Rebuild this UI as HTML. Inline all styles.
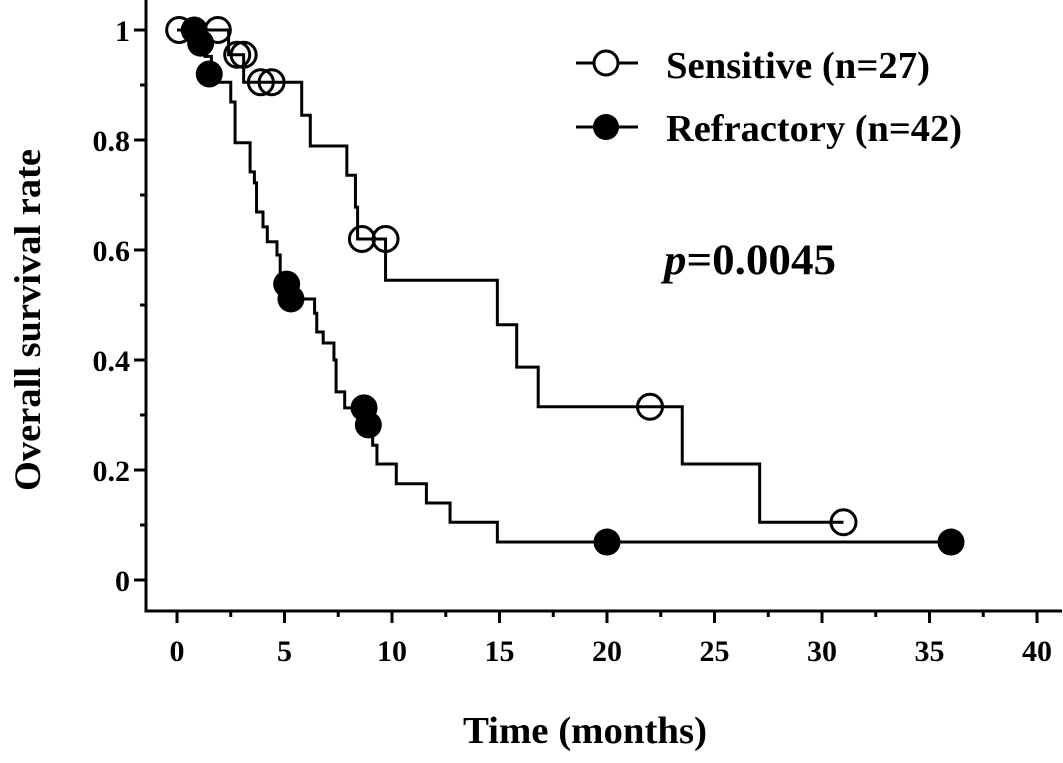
<!DOCTYPE html>
<html><head><meta charset="utf-8"><style>
html,body{margin:0;padding:0;background:#fff;}
svg{display:block;font-family:"Liberation Serif",serif;font-weight:bold;}
</style></head><body>
<svg id="chart" width="1063" height="763" viewBox="0 0 1063 763">
<g id="axes"></g>
<g id="curves"></g>
<text x="463" y="743" font-size="38" textLength="244" lengthAdjust="spacingAndGlyphs">Time (months)</text>
<text transform="translate(40,320) rotate(-90)" text-anchor="middle" font-size="37" textLength="342" lengthAdjust="spacingAndGlyphs">Overall survival rate</text>
<g>
 <g>
  <line x1="576" y1="63" x2="638" y2="63" stroke="#000" stroke-width="3"/>
  <circle cx="606" cy="63" r="12" fill="#fff" stroke="#000" stroke-width="3"/>
  <text x="666" y="78" font-size="38" textLength="264" lengthAdjust="spacingAndGlyphs">Sensitive (n=27)</text>
 </g>
 <g>
  <line x1="576" y1="127" x2="638" y2="127" stroke="#000" stroke-width="3"/>
  <circle cx="606" cy="127" r="13" fill="#000"/>
  <text x="666" y="141" font-size="38" textLength="296" lengthAdjust="spacingAndGlyphs">Refractory (n=42)</text>
 </g>
</g>
<text x="664" y="274" font-size="43" textLength="172" lengthAdjust="spacingAndGlyphs"><tspan font-style="italic">p</tspan>=0.0045</text>
</svg>
<script>
const xTicks=[0,5,10,15,20,25,30,35,40];
const yTicks=[0,0.2,0.4,0.6,0.8,1];
const yTickLabels=["0","0.2","0.4","0.6","0.8","1"];
// sensitive: event times and survival after each step
const sensTimes=[0,2.4,3.1,5.8,6.2,7.9,8.3,8.4,9.7,14.9,15.8,16.8,23.5,27.1];
const sensSurv=[1,0.955,0.905,0.845,0.789,0.736,0.678,0.62,0.545,0.464,0.387,0.315,0.211,0.105];
const sensEnd=31.0;
const sensCensorT=[0.1,1.9,2.8,3.1,3.9,4.4,8.6,9.7,22.0,31.0];
const sensCensorS=[1,1,0.955,0.955,0.905,0.905,0.62,0.62,0.315,0.105];
const refTimes=[0,0.8,1.3,1.6,2.5,2.7,3.4,3.6,3.7,4.0,4.2,4.65,4.8,5.4,6.4,6.5,6.8,7.3,7.4,7.8,8.7,9.1,9.3,10.2,11.6,12.7,14.9];
const refSurv=[1,0.976,0.952,0.905,0.869,0.795,0.742,0.722,0.669,0.642,0.615,0.591,0.538,0.511,0.485,0.451,0.431,0.4,0.342,0.313,0.282,0.245,0.211,0.175,0.14,0.105,0.069];
const refEnd=36.0;
const refCensorT=[0.8,1.1,1.5,5.1,5.3,8.7,8.9,20.0,36.0];
const refCensorS=[1,0.976,0.92,0.538,0.511,0.313,0.282,0.069,0.069];

const X=t=>177+t*21.5;
const Y=s=>580-s*550;
const NS="http://www.w3.org/2000/svg";
function mk(tag,attrs,parent){const e=document.createElementNS(NS,tag);for(const k in attrs)e.setAttribute(k,attrs[k]);parent.appendChild(e);return e;}
const axes=document.getElementById('axes');
const curves=document.getElementById('curves');
let a=mk('path',{d:'M146,0 V611 H1062',fill:'none',stroke:'#000','stroke-width':3},axes);


yTicks.forEach((v,i)=>{
 const t=mk('line',{x1:134,x2:146,y1:Y(v),y2:Y(v),stroke:'#000','stroke-width':3},axes);
 
 
 if(i<yTicks.length-1){const m=mk('line',{x1:140,x2:146,y1:Y(v+0.1),y2:Y(v+0.1),stroke:'#000','stroke-width':3},axes);
 
 }
 const l=mk('text',{x:130,y:Y(v)+11,'text-anchor':'end','font-size':30},axes);l.textContent=yTickLabels[i];
 
 
});
xTicks.forEach((v,i)=>{
 const t=mk('line',{x1:X(v),x2:X(v),y1:611,y2:623,stroke:'#000','stroke-width':3},axes);
 
 
 if(i<xTicks.length-1){const m=mk('line',{x1:X(v+2.5),x2:X(v+2.5),y1:611,y2:617,stroke:'#000','stroke-width':3},axes);
 
 }
 const l=mk('text',{x:X(v),y:661,'text-anchor':'middle','font-size':30},axes);l.textContent=String(v);
 
 
});
function stepPath(ts,ss,end){let d='M'+X(ts[0])+','+Y(ss[0]);for(let i=1;i<ts.length;i++){d+=' H'+X(ts[i])+' V'+Y(ss[i]);}d+=' H'+X(end);return d;}
const sp=mk('path',{d:stepPath(sensTimes,sensSurv,sensEnd),fill:'none',stroke:'#000','stroke-width':3},curves);


const rp=mk('path',{d:stepPath(refTimes,refSurv,refEnd),fill:'none',stroke:'#000','stroke-width':3},curves);


sensCensorT.forEach((t,i)=>{const c=mk('circle',{cx:X(t),cy:Y(sensCensorS[i]),r:12.5,fill:'none',stroke:'#000','stroke-width':3},curves);
 
 });
refCensorT.forEach((t,i)=>{const c=mk('circle',{cx:X(t),cy:Y(refCensorS[i]),r:13.5,fill:'#000'},curves);
 
 });
</script>
</body></html>
